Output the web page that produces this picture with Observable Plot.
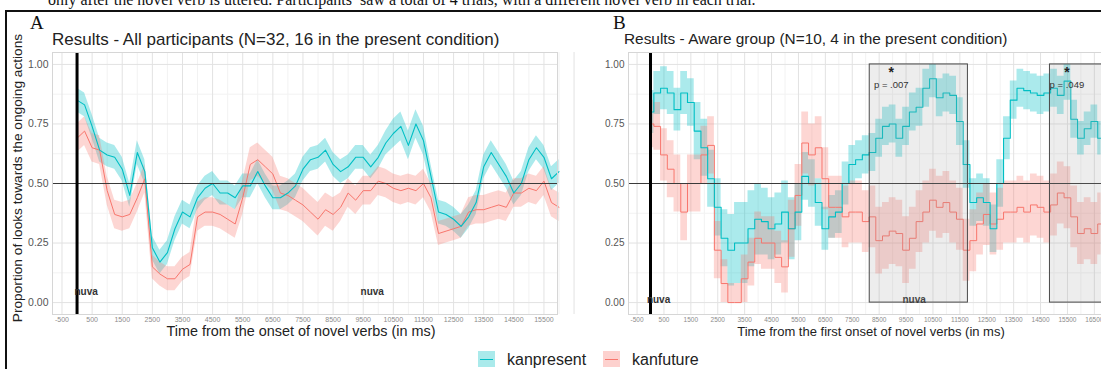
<!DOCTYPE html>
<html><head><meta charset="utf-8">
<script src="https://cdn.jsdelivr.net/npm/d3@7"></script>
<script src="https://cdn.jsdelivr.net/npm/@observablehq/plot@0.6"></script>
<style>
html,body{margin:0;padding:0;width:1101px;height:369px;overflow:hidden;background:#fff;font-family:"Liberation Sans",Arial,sans-serif;}
#root{position:relative;width:1101px;height:369px;overflow:hidden;}
.abs{position:absolute;white-space:nowrap;line-height:1;}
</style></head><body>
<div id="root"></div>
<script>
// ---------- data ----------
const seriesNames = ["kanpresent", "kanfuture"];
const seriesColors = ["#00BFC4", "#F8766D"];

const timeA = [0,250,500,750,1000,1250,1500,1750,2000,2250,2500,2750,3000,3250,3500,3750,4000,4250,4500,4750,5000,5250,5500,5750,6000,6250,6500,6750,7000,7250,7500,7750,8000,8250,8500,8750,9000,9250,9500,9750,10000,10250,10500,10750,11000,11250,11500,11750,12000,12250,12500,12750,13000,13250,13500,13750,14000,14250,14500,14750,15000,15250,15500,15750,16000];
const presentA = [0.85,0.83,0.74,0.64,0.62,0.61,0.56,0.45,0.63,0.55, 0.23,0.17,0.21,0.31,0.38,0.36,0.44,0.48,0.50,0.46, 0.46,0.44,0.49,0.49,0.55,0.49,0.44,0.44,0.46,0.49, 0.56,0.60,0.61,0.64,0.58,0.55,0.57,0.61,0.61,0.57, 0.61,0.67,0.71,0.74,0.66,0.75,0.68,0.53,0.38,0.37, 0.35,0.32,0.36,0.42,0.57,0.63,0.58,0.53,0.46,0.50, 0.60,0.65,0.61,0.52,0.55];
const futureA = [0.69,0.72,0.65,0.64,0.47,0.37,0.36,0.37,0.44,0.52, 0.15,0.12,0.10,0.10,0.14,0.16,0.36,0.38,0.38,0.37, 0.35,0.33,0.44,0.58,0.60,0.57,0.54,0.46,0.45,0.43, 0.41,0.38,0.35,0.39,0.37,0.40,0.46,0.43,0.47,0.47, 0.51,0.50,0.48,0.47,0.48,0.47,0.50,0.44,0.29,0.30, 0.31,0.32,0.38,0.39,0.39,0.40,0.41,0.40,0.46,0.46, 0.48,0.47,0.51,0.42,0.40];
const presentSeA = [0.05,0.05,0.05,0.05,0.05,0.05,0.05,0.05,0.05,0.05, 0.05,0.05,0.05,0.05,0.05,0.05,0.05,0.05,0.05,0.05, 0.05,0.05,0.05,0.05,0.05,0.05,0.05,0.05,0.05,0.05, 0.05,0.05,0.05,0.05,0.05,0.05,0.05,0.05,0.05,0.05, 0.05,0.05,0.06,0.06,0.06,0.06,0.06,0.05,0.05,0.05, 0.05,0.05,0.05,0.05,0.05,0.05,0.05,0.05,0.05,0.05, 0.05,0.05,0.05,0.05,0.05];
const futureSeA = [0.06,0.06,0.06,0.06,0.06,0.06,0.06,0.06,0.06,0.06, 0.05,0.05,0.05,0.05,0.05,0.05,0.06,0.06,0.06,0.06, 0.06,0.06,0.07,0.07,0.07,0.07,0.07,0.07,0.07,0.07, 0.07,0.07,0.07,0.07,0.07,0.06,0.06,0.06,0.06,0.06, 0.06,0.06,0.06,0.06,0.06,0.06,0.06,0.06,0.05,0.05, 0.05,0.05,0.06,0.06,0.06,0.06,0.06,0.06,0.06,0.06, 0.06,0.06,0.06,0.06,0.06];

const timeB = [0,250,500,750,1000,1250,1500,1750,2000,2250,2500,2750,3000,3250,3500,3750,4000,4250,4500,4750,5000,5250,5500,5750,6000,6250,6500,6750,7000,7250,7500,7750,8000,8250,8500,8750,9000,9250,9500,9750,10000,10250,10500,10750,11000,11250,11500,11750,12000,12250,12500,12750,13000,13250,13500,13750,14000,14250,14500,14750,15000,15250,15500,15750,16000,16250,16500,16750];
const presentB = [0.80,0.88,0.90,0.88,0.81,0.88,0.84,0.72,0.65,0.52, 0.40,0.27,0.22,0.25,0.25,0.31,0.35,0.34,0.31,0.33, 0.38,0.31,0.38,0.53,0.50,0.42,0.31,0.36,0.38,0.50, 0.58,0.60,0.62,0.63,0.69,0.74,0.75,0.69,0.74,0.80, 0.82,0.90,0.94,0.86,0.88,0.87,0.76,0.58,0.42,0.44, 0.42,0.31,0.50,0.69,0.85,0.90,0.89,0.88,0.87,0.88, 0.90,0.87,0.93,0.77,0.69,0.73,0.76,0.69];
const futureB = [0.75,0.74,0.62,0.56,0.50,0.38,0.50,0.50,0.62,0.66, 0.22,0.08,0.00,0.00,0.10,0.17,0.27,0.25,0.25,0.19, 0.15,0.31,0.45,0.67,0.62,0.65,0.52,0.40,0.40,0.36, 0.38,0.38,0.34,0.36,0.26,0.28,0.30,0.29,0.22,0.27, 0.34,0.38,0.43,0.40,0.42,0.38,0.35,0.22,0.26,0.33, 0.37,0.33,0.35,0.38,0.38,0.40,0.38,0.41,0.40,0.38, 0.41,0.46,0.44,0.36,0.29,0.31,0.29,0.33];
const presentSeB = [0.09,0.09,0.09,0.09,0.09,0.09,0.10,0.12,0.12,0.12, 0.12,0.12,0.15,0.17,0.17,0.16,0.15,0.14,0.13,0.13, 0.13,0.13,0.12,0.10,0.10,0.10,0.09,0.09,0.09,0.09, 0.08,0.08,0.08,0.08,0.08,0.08,0.08,0.08,0.08,0.08, 0.08,0.08,0.08,0.08,0.08,0.08,0.10,0.10,0.10,0.10, 0.10,0.10,0.10,0.09,0.08,0.08,0.08,0.08,0.08,0.08, 0.08,0.08,0.08,0.08,0.07,0.07,0.07,0.07];
const futureSeB = [0.10,0.10,0.11,0.12,0.12,0.12,0.12,0.12,0.12,0.12, 0.12,0.10,0.08,0.08,0.10,0.10,0.11,0.11,0.11,0.11, 0.11,0.12,0.13,0.13,0.13,0.13,0.13,0.13,0.13,0.13, 0.13,0.13,0.13,0.13,0.14,0.14,0.14,0.14,0.14,0.13, 0.13,0.13,0.13,0.13,0.13,0.13,0.13,0.13,0.13,0.13, 0.13,0.13,0.13,0.13,0.13,0.13,0.13,0.13,0.13,0.13, 0.13,0.13,0.13,0.13,0.13,0.13,0.13,0.13];

const xTickLabels = [-500,500,1500,2500,3500,4500,5500,6500,7500,8500,9500,10500,11500,12500,13500,14500,15500,16500];
const xMinorGrid = [0,1000,2000,3000,4000,5000,6000,7000,8000,9000,10000,11000,12000,13000,14000,15000,16000];
const yTickLabels = [0,0.25,0.5,0.75,1];
const yMinorGrid = [0.125,0.375,0.625,0.875];

const onsetTime = [0];
const chanceLevel = [0.5];
const wordLabel = "nuva";
const wordTimesA = [300, 9800];
const wordTimesB = [300, 9800];
const sigStart = [8150, 14850];
const sigEnd = [11800, 17500];
const sigP = ["p = .007", "p = .049"];
const sigMid = [8950, 15480];

// ---------- build rows ----------
function rows(times, vals, ses, name) {
  return times.map((t, i) => ({t, v: vals[i], lo: Math.max(0, vals[i] - ses[i]), hi: Math.min(1, vals[i] + ses[i]), s: name}));
}
const rowsA = [...rows(timeA, presentA, presentSeA, seriesNames[0]), ...rows(timeA, futureA, futureSeA, seriesNames[1])];
const rowsB = [...rows(timeB, presentB, presentSeB, seriesNames[0]), ...rows(timeB, futureB, futureSeB, seriesNames[1])];

const FONT = "Liberation Sans, Arial, sans-serif";

function panel({data, domain, width, marginLeft, curve, wordTimes, wordY, tickFont, yFont, extra}) {
  const series = (k) => d => d.s === seriesNames[k];
  const ticks = xTickLabels.filter(t => t >= domain[0] && t <= domain[1] + 400);
  return Plot.plot({
    width, height: 285,
    marginLeft, marginRight: 0, marginTop: 7, marginBottom: 16,
    style: {fontFamily: FONT, background: "transparent", overflow: "visible"},
    x: {domain, label: null},
    y: {domain: [-0.05, 1.05], label: null},
    marks: [
      Plot.gridX(xMinorGrid, {stroke: "#f2f2f2", strokeOpacity: 1}),
      Plot.gridY(yMinorGrid, {stroke: "#f2f2f2", strokeOpacity: 1}),
      Plot.gridX(xTickLabels, {stroke: "#e2e2e2", strokeOpacity: 1}),
      Plot.gridY(yTickLabels, {stroke: "#e2e2e2", strokeOpacity: 1}),
      Plot.areaY(data, {filter: series(0), x: "t", y1: "lo", y2: "hi", fill: seriesColors[0], fillOpacity: 0.33, curve}),
      Plot.areaY(data, {filter: series(1), x: "t", y1: "lo", y2: "hi", fill: seriesColors[1], fillOpacity: 0.3, curve}),
      Plot.lineY(data, {filter: series(1), x: "t", y: "v", stroke: seriesColors[1], strokeWidth: 1, curve}),
      Plot.lineY(data, {filter: series(0), x: "t", y: "v", stroke: seriesColors[0], strokeWidth: 1.1, curve}),
      Plot.ruleY(chanceLevel, {stroke: "#3a3a3a", strokeWidth: 1.2}),
      Plot.ruleX(onsetTime, {stroke: "#000", strokeWidth: 3}),
      Plot.text(wordTimes, {x: d => d, y: wordY, text: () => wordLabel, fontSize: 10, fontWeight: "bold", fill: "#333"}),
      ...(extra ? extra : []),
      Plot.frame({stroke: "#d6d6d6"}),
      Plot.axisX(ticks, {tickSize: 0, tickPadding: 3, fontSize: tickFont, fill: "#8c8c8c", tickFormat: d => String(d), label: null}),
      Plot.axisY(yTickLabels, {tickSize: 0, tickPadding: 4, fontSize: yFont, fill: "#555", tickFormat: d => d.toFixed(2), label: null})
    ]
  });
}

const svgA = panel({data: rowsA, domain: [-815, 15950], width: 557, marginLeft: 52, curve: "linear", wordTimes: wordTimesA, wordY: 0.045, tickFont: 7, yFont: 10.5});

const boxes = sigStart.map((s, i) => ({s, e: sigEnd[i], p: sigP[i], m: sigMid[i]}));
const svgB = panel({data: rowsB, domain: [-818, 16766], width: 541, marginLeft: 68, curve: "step", wordTimes: wordTimesB, wordY: 0.012, tickFont: 6.5, yFont: 10,
  extra: [
    Plot.rect(boxes, {x1: "s", x2: "e", y1: 0, y2: 1, fill: "#9a9a9a", fillOpacity: 0.18, stroke: "#4a4a4a", strokeWidth: 1, clip: true}),
    Plot.text(boxes, {x: "m", y: 0.965, text: () => "*", fontSize: 14, fontWeight: "bold", fill: "#222"}),
    Plot.text(boxes, {x: "m", y: 0.912, text: "p", fontSize: 9.5, fill: "#333"})
  ]});

// ---------- page ----------
const root = document.getElementById("root");
function add(html, css) { const d = document.createElement("div"); d.className = "abs"; d.innerHTML = html; Object.assign(d.style, css); root.appendChild(d); return d; }

add("only after the novel verb is uttered. Participants’ saw a total of 4 trials, with a different novel verb in each trial.", {left: "48px", top: "-8px", fontFamily: "Liberation Serif, Times New Roman, serif", fontSize: "16px", color: "#111"});
add("", {left: "5px", top: "10px", width: "1096px", height: "2px", background: "#111"});
add("", {left: "5px", top: "10px", width: "2px", height: "359px", background: "#111"});

add("A", {left: "30px", top: "13px", fontFamily: "Liberation Serif, Times New Roman, serif", fontSize: "19px", color: "#111"});
add("B", {left: "613px", top: "13px", fontFamily: "Liberation Serif, Times New Roman, serif", fontSize: "19px", color: "#111"});
add("Results - All participants (N=32, 16 in the present condition)", {left: "52px", top: "30.5px", fontSize: "17px", color: "#222"});
add("Results - Aware group (N=10, 4 in the present condition)", {left: "624px", top: "31px", fontSize: "15.4px", color: "#222"});

const pa = document.createElement("div"); pa.style.cssText = "position:absolute;left:0;top:45px;"; pa.appendChild(svgA); root.appendChild(pa);
const pb = document.createElement("div"); pb.style.cssText = "position:absolute;left:560px;top:45px;"; pb.appendChild(svgB); root.appendChild(pb);

add("Proportion of looks towards the ongoing actions", {left: "18px", top: "178px", fontSize: "13.7px", color: "#222", transform: "translate(-50%,-50%) rotate(-90deg)"});
add("Time from the onset of novel verbs (in ms)", {left: "301px", top: "331px", fontSize: "14.4px", color: "#222", transform: "translate(-50%,-50%)"});
add("Time from the first onset of novel verbs (in ms)", {left: "871px", top: "331px", fontSize: "13px", color: "#222", transform: "translate(-50%,-50%)"});

// legend
const legendX = [478, 603];
seriesNames.forEach((name, i) => {
  add("", {left: legendX[i] + "px", top: "351px", width: "17px", height: "16px", background: seriesColors[i] + "55"});
  add("", {left: legendX[i] + 2 + "px", top: "358.5px", width: "13px", height: "1px", background: seriesColors[i]});
  add(name, {left: legendX[i] + 29 + "px", top: "351.5px", fontSize: "16px", color: "#222"});
});
</script>
</body></html>
